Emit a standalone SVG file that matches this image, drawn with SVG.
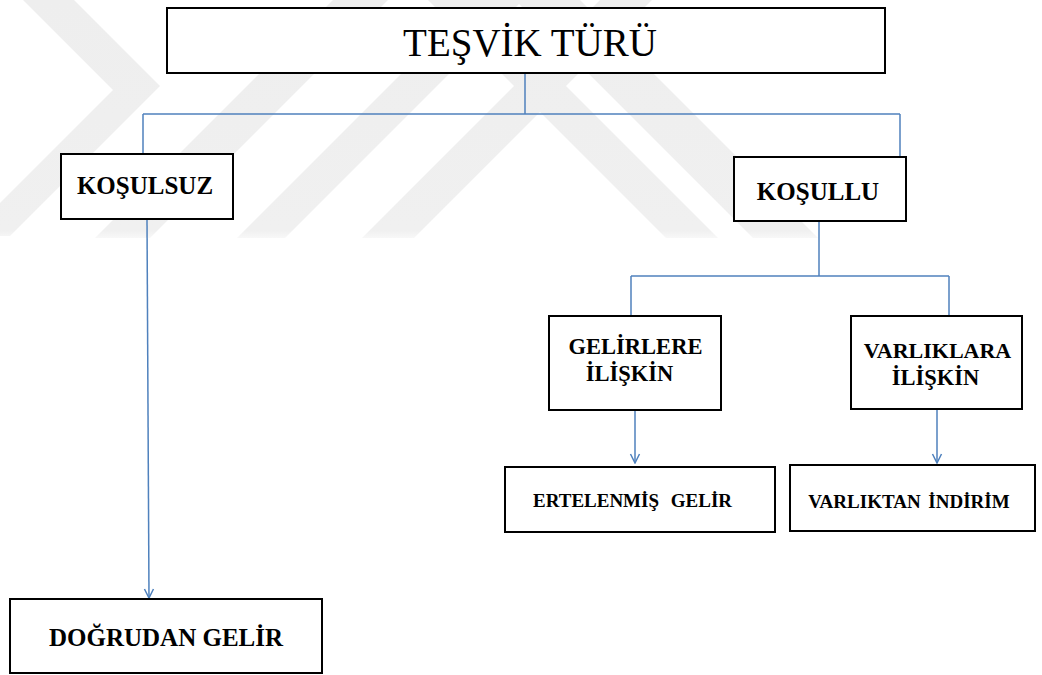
<svg xmlns="http://www.w3.org/2000/svg" width="1042" height="675" viewBox="0 0 1042 675">
  <defs>
    <style>
      .box { fill: #ffffff; stroke: #000000; stroke-width: 2; }
      .conn { fill: none; stroke: #4f81bd; stroke-width: 1.5; }
      .t { fill: #000000; text-anchor: middle; }
      .b { font-weight: bold; }
      .wm { fill: url(#wmGrad); }
    </style>
    <linearGradient id="wmGrad" gradientUnits="userSpaceOnUse" x1="0" y1="0" x2="0" y2="240">
      <stop offset="0" stop-color="#eeeeee"/>
      <stop offset="0.96" stop-color="#f0f0f0"/>
      <stop offset="1" stop-color="#fafafa"/>
    </linearGradient>
    <clipPath id="wmClip">
      <rect x="0" y="0" width="1042" height="238"/>
    </clipPath>
    <marker id="arr" markerUnits="userSpaceOnUse" markerWidth="12" markerHeight="12" viewBox="0 0 12 12" refX="11" refY="6" orient="auto">
      <path d="M2,1.5 L11,6 L2,10.5" fill="none" stroke="#4f81bd" stroke-width="1.5"/>
    </marker>
  </defs>

  <rect x="0" y="0" width="1042" height="675" fill="#ffffff"/>

  <g id="watermark" clip-path="url(#wmClip)">
    <polygon class="wm" points="23,0 74,0 160,86 10,236 0,236 0,203 113,90"/>
    <polygon class="wm" points="333,0 388,0 146,242 91,242"/>
    <polygon class="wm" points="475,0 523,0 281,242 233,242"/>
    <polygon class="wm" points="600,0 652,0 410,242 358,242"/>
    <polygon class="wm" points="428,0 480,0 722,242 670,242"/>
    <polygon class="wm" points="515,0 580,0 822,242 757,242"/>
  </g>

  <g id="connectors">
    <path class="conn" d="M525,73 V114"/>
    <path class="conn" d="M143,114 H900"/>
    <path class="conn" d="M143,114 V154"/>
    <path class="conn" d="M900,114 V157"/>
    <path class="conn" d="M147,219 L149,598" marker-end="url(#arr)"/>
    <path class="conn" d="M819,221 V276"/>
    <path class="conn" d="M631,276 H949"/>
    <path class="conn" d="M631,276 V316"/>
    <path class="conn" d="M949,276 V316"/>
    <path class="conn" d="M635,410 V463" marker-end="url(#arr)"/>
    <path class="conn" d="M937,409 V463" marker-end="url(#arr)"/>
  </g>

  <g id="node-tesvik-turu">
    <rect class="box" x="167" y="8" width="718" height="65"/>
    <text class="t" font-family="'Liberation Serif', 'DejaVu Serif', serif" x="530" y="56" font-size="39">TEŞVİK TÜRÜ</text>
  </g>

  <g id="node-kosulsuz">
    <rect class="box" x="61" y="154" width="172" height="65"/>
    <text class="t b" font-family="'Liberation Serif', 'DejaVu Serif', serif" x="145" y="194" font-size="25">KOŞULSUZ</text>
  </g>

  <g id="node-kosullu">
    <rect class="box" x="734" y="157" width="172" height="64"/>
    <text class="t b" font-family="'Liberation Serif', 'DejaVu Serif', serif" x="818" y="200" font-size="25">KOŞULLU</text>
  </g>

  <g id="node-gelirlere-iliskin">
    <rect class="box" x="549" y="316" width="172" height="94"/>
    <text class="t b" font-family="'Liberation Serif', 'DejaVu Serif', serif" x="635.5" y="354" font-size="22.5">GELİRLERE</text>
    <text class="t b" font-family="'Liberation Serif', 'DejaVu Serif', serif" x="629.5" y="381" font-size="22.5">İLİŞKİN</text>
  </g>

  <g id="node-varliklara-iliskin">
    <rect class="box" x="851" y="316" width="171" height="93"/>
    <text class="t b" font-family="'Liberation Serif', 'DejaVu Serif', serif" x="937.5" y="358" font-size="22">VARLIKLARA</text>
    <text class="t b" font-family="'Liberation Serif', 'DejaVu Serif', serif" x="935.5" y="385" font-size="22.5">İLİŞKİN</text>
  </g>

  <g id="node-ertelenmis-gelir">
    <rect class="box" x="505" y="467" width="270" height="65"/>
    <text class="t b" font-family="'Liberation Serif', 'DejaVu Serif', serif" x="632.5" y="507" font-size="19" word-spacing="7">ERTELENMİŞ GELİR</text>
  </g>

  <g id="node-varliktan-indirim">
    <rect class="box" x="790" y="465" width="245" height="66"/>
    <text class="t b" font-family="'Liberation Serif', 'DejaVu Serif', serif" x="909" y="508" font-size="19" word-spacing="3">VARLIKTAN İNDİRİM</text>
  </g>

  <g id="node-dogrudan-gelir">
    <rect class="box" x="10" y="599" width="312" height="74"/>
    <text class="t b" font-family="'Liberation Serif', 'DejaVu Serif', serif" x="166" y="646" font-size="25">DOĞRUDAN GELİR</text>
  </g>
</svg>
